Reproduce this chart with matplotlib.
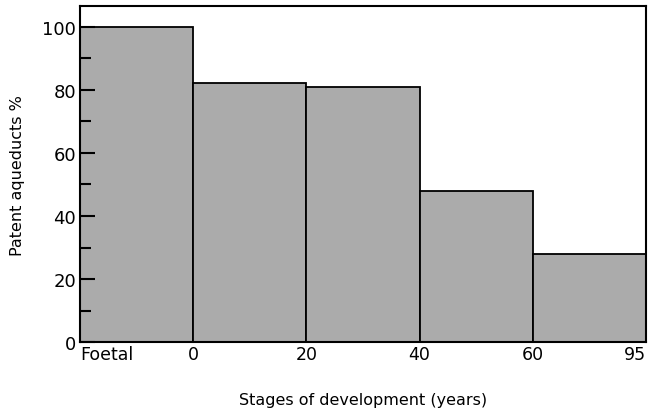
import matplotlib.pyplot as plt
import matplotlib
import numpy as np

matplotlib.rcParams['font.family'] = 'DejaVu Sans'

# bins along the x axis (edges) and percent of patent aqueducts per bin
edge_labels = ['Foetal', '0', '20', '40', '60', '95']
patent = [100, 82, 81, 48, 28]

fig = plt.figure(figsize=(6.51, 4.14), dpi=100)
ax = fig.add_axes([0.123, 0.171, 0.869, 0.812])

pos = np.arange(len(patent))
ax.bar(pos, patent, width=1.0, align='edge', color='#ababab',
       edgecolor='black', linewidth=1.3, zorder=1)

ax.set_xlim(0, len(patent))
ax.set_ylim(0, 106.5)

ax.set_xticks(np.arange(len(edge_labels)))
ax.set_xticklabels(edge_labels)
ax.get_xticklabels()[0].set_horizontalalignment('left')
ax.get_xticklabels()[-1].set_horizontalalignment('right')
ax.tick_params(axis='x', length=0, pad=2, labelsize=12.5)

ax.set_yticks([0, 20, 40, 60, 80, 100])
ax.set_yticks([10, 30, 50, 70, 90], minor=True)
ax.tick_params(axis='y', which='major', direction='in', length=11, width=1.5,
               pad=3, labelsize=13)
ax.tick_params(axis='y', which='minor', direction='in', length=8, width=1.5)
ax.set_axisbelow(False)

for s in ax.spines.values():
    s.set_linewidth(1.5)

ax.set_xlabel('Stages of development (years)', fontsize=11.5, labelpad=21)
ax.set_ylabel('Patent aqueducts %', fontsize=11.5, labelpad=12)

plt.savefig('out.png', dpi=100)
